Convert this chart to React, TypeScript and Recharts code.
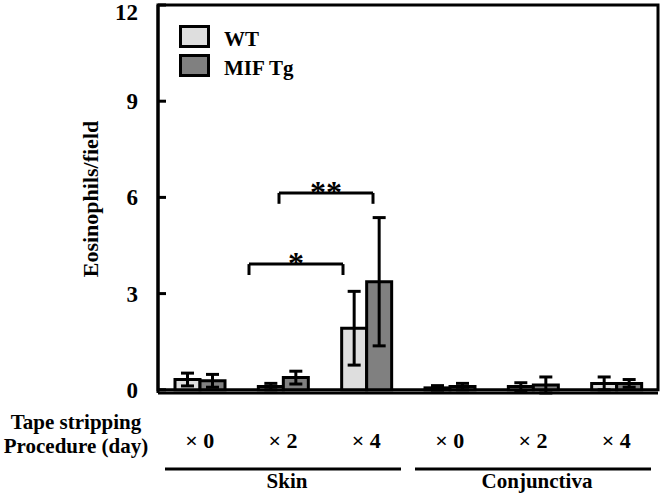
import React from "react";
import {
  Bar,
  BarChart,
  ErrorBar,
  Legend,
  ReferenceArea,
  ReferenceLine,
  XAxis,
  YAxis,
} from "recharts";

const categories = ["× 0", "× 2", "× 4", "× 0", "× 2", "× 4"];
const groups = ["Skin", "Skin", "Skin", "Conjunctiva", "Conjunctiva", "Conjunctiva"];
const wtMean = [0.32, 0.1, 1.92, 0.06, 0.1, 0.2];
const wtErr = [0.2, 0.1, 1.15, 0.07, 0.12, 0.2];
const tgMean = [0.28, 0.38, 3.37, 0.1, 0.15, 0.2];
const tgErr = [0.2, 0.2, 2.0, 0.1, 0.25, 0.12];
const yTicks = [0, 3, 6, 9, 12];

// significance brackets: category index + series of each end
const brackets = [
  { from: 1, fromSeries: "wt", to: 2, toSeries: "wt", top: 3.92, leg: 3.58, mark: "*" },
  { from: 1, fromSeries: "tg", to: 2, toSeries: "tg", top: 6.14, leg: 5.8, mark: "**" },
];

const WT_COLOR = "#dedede";
const TG_COLOR = "#808080";
const FONT = "'Liberation Serif', 'Times New Roman', serif";

const data = categories.map((c, i) => ({
  name: c,
  group: groups[i],
  wt: wtMean[i],
  wtErr: wtErr[i],
  tg: tgMean[i],
  tgErr: tgErr[i],
}));

// bar centre offset inside a category (barSize / band width)
const HALF = 0.15;
const barCenter = (i: number, s: string) => (s === "wt" ? i - HALF : i + HALF);

function ValueTick(props: any) {
  const { x, y, payload } = props;
  return (
    <g>
      <line x1={x} x2={x + 8} y1={y} y2={y} stroke="#000" strokeWidth={3} />
      <text
        x={x - 20}
        y={Math.max(y, 12)}
        dy="0.35em"
        textAnchor="end"
        fontFamily={FONT}
        fontWeight="bold"
        fontSize={23}
        fill="#000"
      >
        {payload.value}
      </text>
    </g>
  );
}

function CategoryTick(props: any) {
  const { x, y, payload, index } = props;
  const band = payload.offset ? payload.offset * 2 : 500 / categories.length;
  const g = groups[index];
  const isStart = index === 0 || groups[index - 1] !== g;
  let groupEl = null;
  if (isStart) {
    let end = index;
    while (end + 1 < groups.length && groups[end + 1] === g) end++;
    const span = end - index;
    const x1 = x - band / 2 + 7;
    const x2 = x + (span + 0.5) * band - 7;
    groupEl = (
      <g>
        <line x1={x1} x2={x2} y1={y + 76} y2={y + 76} stroke="#000" strokeWidth={3} />
        <text
          x={x + (span / 2) * band + 4}
          y={y + 95}
          textAnchor="middle"
          fontFamily={FONT}
          fontWeight="bold"
          fontSize={21}
          fill="#000"
        >
          {g}
        </text>
      </g>
    );
  }
  return (
    <g>
      <text
        x={x}
        y={y + 55}
        textAnchor="middle"
        fontFamily={FONT}
        fontWeight="bold"
        fontSize={22}
        fill="#000"
      >
        {payload.value}
      </text>
      {groupEl}
    </g>
  );
}

function renderXLabel(props: any) {
  const { viewBox } = props;
  const cx = viewBox.x - 82;
  return (
    <g>
      <text x={cx} y={viewBox.y + 36} textAnchor="middle" fontFamily={FONT} fontWeight="bold" fontSize={21} fill="#000">
        Tape stripping
      </text>
      <text x={cx} y={viewBox.y + 60} textAnchor="middle" fontFamily={FONT} fontWeight="bold" fontSize={21} fill="#000">
        Procedure (day)
      </text>
    </g>
  );
}

function renderYLabel(props: any) {
  const { viewBox } = props;
  const cx = viewBox.x + 90;
  const cy = viewBox.y + viewBox.height / 2;
  return (
    <text
      x={cx}
      y={cy}
      transform={`rotate(-90 ${cx} ${cy})`}
      textAnchor="middle"
      dy="0.35em"
      fontFamily={FONT}
      fontWeight="bold"
      fontSize={22}
      fill="#000"
      style={{ fill: "#000" }}
    >
      Eosinophils/field
    </text>
  );
}

function renderLegend() {
  const items = [
    { label: "WT", color: WT_COLOR },
    { label: "MIF Tg", color: TG_COLOR },
  ];
  return (
    <svg width={150} height={56}>
      {items.map((it, i) => (
        <g key={it.label}>
          <rect x={1.5} y={1.5 + i * 29} width={28} height={20} fill={it.color} stroke="#000" strokeWidth={3} />
          <text x={45} y={21 + i * 29} fontFamily={FONT} fontWeight="bold" fontSize={21} fill="#000">
            {it.label}
          </text>
        </g>
      ))}
    </svg>
  );
}

function starLabel(mark: string) {
  return (props: any) => {
    const { viewBox } = props;
    return (
      <text
        x={viewBox.x + viewBox.width / 2}
        y={viewBox.y + 10}
        textAnchor="middle"
        fontFamily={FONT}
        fontWeight="bold"
        fontSize={32}
        fill="#000"
      >
        {mark}
      </text>
    );
  };
}

export default function App() {
  return (
    <div style={{ position: "absolute", left: 0, top: 0, background: "#fff" }}>
      <BarChart
        width={662}
        height={501}
        data={data}
        margin={{ top: 5, right: 4, left: 0, bottom: 0 }}
        barSize={25}
        barGap={0}
      >
        <ReferenceArea y1={0} y2={12} fill="none" stroke="#000" strokeWidth={3} ifOverflow="visible" />
        <XAxis
          dataKey="name"
          height={108}
          tickLine={false}
          tickSize={0}
          tickMargin={0}
          axisLine={{ stroke: "#000", strokeWidth: 3 }}
          tick={<CategoryTick />}
          interval={0}
          label={{ content: renderXLabel }}
        />
        <XAxis xAxisId="pos" type="number" domain={[-0.5, 5.5]} hide allowDataOverflow />
        <YAxis
          width={158}
          domain={[0, 12]}
          ticks={yTicks}
          tickLine={false}
          tickSize={0}
          tickMargin={0}
          axisLine={{ stroke: "#000", strokeWidth: 3 }}
          tick={<ValueTick />}
          interval={0}
          label={{ content: renderYLabel }}
        />
        <Legend
          layout="vertical"
          align="center"
          verticalAlign="middle"
          wrapperStyle={{ left: 179, top: 25, width: 150, height: 56 }}
          content={renderLegend}
        />
        <Bar dataKey="wt" name="WT" fill={WT_COLOR} stroke="#000" strokeWidth={3} isAnimationActive={false}>
          <ErrorBar dataKey="wtErr" direction="y" width={6.5} stroke="#000" strokeWidth={3} />
        </Bar>
        <Bar dataKey="tg" name="MIF Tg" fill={TG_COLOR} stroke="#000" strokeWidth={3} isAnimationActive={false}>
          <ErrorBar dataKey="tgErr" direction="y" width={6.5} stroke="#000" strokeWidth={3} />
        </Bar>
        {brackets.map((b) => {
          const xa = barCenter(b.from, b.fromSeries) + 0.06;
          const xb = barCenter(b.to, b.toSeries);
          return (
            <React.Fragment key={b.mark}>
              <ReferenceLine
                xAxisId="pos"
                segment={[{ x: xa, y: b.leg }, { x: xa, y: b.top }]}
                stroke="#000"
                strokeWidth={3}
                ifOverflow="visible"
              />
              <ReferenceLine
                xAxisId="pos"
                segment={[{ x: xb, y: b.leg }, { x: xb, y: b.top }]}
                stroke="#000"
                strokeWidth={3}
                ifOverflow="visible"
              />
              <ReferenceLine
                xAxisId="pos"
                segment={[{ x: xa, y: b.top }, { x: xb, y: b.top }]}
                stroke="#000"
                strokeWidth={3}
                ifOverflow="visible"
                label={{ content: starLabel(b.mark) }}
              />
            </React.Fragment>
          );
        })}
      </BarChart>
    </div>
  );
}
